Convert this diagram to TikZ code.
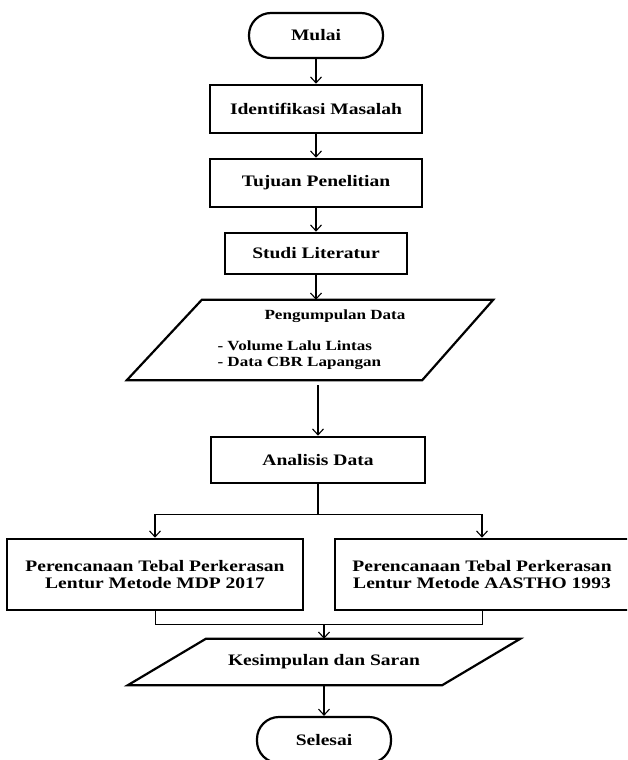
\documentclass[tikz,border=0pt]{standalone}
\usepackage{fontspec}
\setmainfont{Liberation Serif}[FakeStretch=1.22]
\usetikzlibrary{arrows.meta}

\begin{document}
\begin{tikzpicture}[x=1pt,y=-1pt,
  terminal/.style={rectangle,rounded corners=22pt,draw=black,line width=2.2pt,minimum width=134pt,minimum height=45pt,font=\fontsize{16}{18}\selectfont\bfseries},
  proses/.style={rectangle,draw=black,line width=2.6pt,align=center,font=\fontsize{16}{17}\selectfont\bfseries},
  dataio/.style={rectangle,inner sep=0pt,font=\fontsize{16}{18}\selectfont\bfseries},
  tepi/.style={draw=black,line width=2.2pt,line join=miter},
  panah/.style={-{Straight Barb[length=6pt,width=11pt]},line width=1.1pt}]
\clip (0,0) rectangle (627,760);

\node[terminal] (mulai) at (316,35.5) {Mulai};
\node[proses,minimum width=212pt,minimum height=48pt] (identifikasi) at (316,109) {Identifikasi Masalah};
\node[proses,minimum width=212pt,minimum height=48pt] (tujuan) at (316,183) {Tujuan Penelitian};
\node[proses,minimum width=182pt,minimum height=41pt] (studi) at (316,253.5) {Studi Literatur};

\node[dataio,minimum width=366pt,minimum height=80pt] (kumpul) at (310,340) {};
\draw[tepi] ([xshift=75pt]kumpul.north west) -- (kumpul.north east) -- ([xshift=-71pt]kumpul.south east) -- (kumpul.south west) -- cycle;
\node[font=\fontsize{14}{16}\selectfont\bfseries] (kumpul judul) at (335,316) {Pengumpulan Data};
\node[font=\fontsize{14}{15.5}\selectfont\bfseries,align=left,anchor=west] (kumpul isi) at (214,355) {- Volume Lalu Lintas\\- Data CBR Lapangan};

\node[proses,minimum width=214pt,minimum height=46pt] (analisis) at (318,460) {Analisis Data};
\node[proses,minimum width=296pt,minimum height=71pt] (mdp) at (155,574.5) {Perencanaan Tebal Perkerasan\\Lentur Metode MDP 2017};
\node[proses,minimum width=294pt,minimum height=71pt] (aastho) at (482,574.5) {Perencanaan Tebal Perkerasan\\Lentur Metode AASTHO 1993};

\node[dataio,minimum width=392pt,minimum height=46pt] (kesimpulan) at (324,662) {Kesimpulan dan Saran};
\draw[tepi] ([xshift=78pt]kesimpulan.north west) -- (kesimpulan.north east) -- ([xshift=-78pt]kesimpulan.south east) -- (kesimpulan.south west) -- cycle;
\node[terminal,minimum height=46pt] (selesai) at (324,740) {Selesai};

\draw[panah] (mulai) -- (identifikasi);
\draw[panah] (identifikasi) -- (tujuan);
\draw[panah] (tujuan) -- (studi);
\draw[panah] (studi.south) -- (studi.south |- kumpul.north);
\draw[panah,shorten <=5pt] (analisis.north |- kumpul.south) -- (analisis.north);
\draw[panah] (analisis.south) -- ++(0,30) -| (mdp.north);
\draw[panah] (analisis.south) -- ++(0,30) -| (aastho.north);
\coordinate (gabung) at (324,624);
\draw (mdp.south) |- (gabung);
\draw (aastho.south) |- (gabung);
\draw[panah] (gabung) -- (gabung |- kesimpulan.north);
\draw[panah] (kesimpulan.south) -- (selesai.north);
\end{tikzpicture}
\end{document}
